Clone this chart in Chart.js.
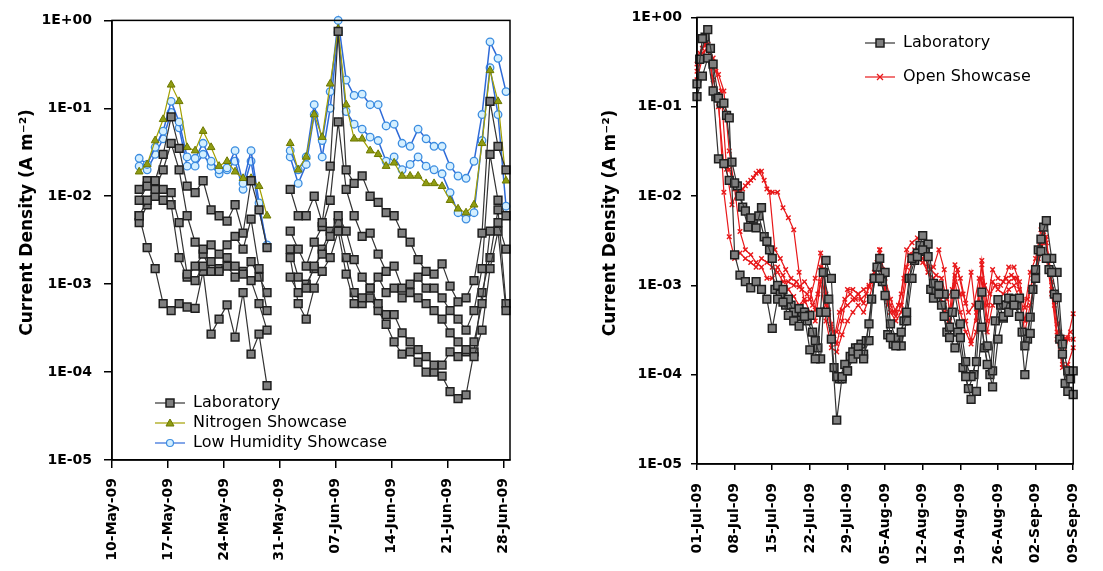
<!DOCTYPE html>
<html>
<head>
<meta charset="utf-8">
<title>Current density</title>
<script src="https://cdn.jsdelivr.net/npm/chart.js@4.4.1/dist/chart.umd.min.js"></script>
<style>
  html, body { margin: 0; padding: 0; background: #fff; }
  #wrap { position: relative; width: 1103px; height: 571px; overflow: hidden; }
  canvas { position: absolute; top: 0; }
  #leftChart { left: 0; }
  #rightChart { left: 560px; }
</style>
</head>
<body>
<div id="wrap">
  <canvas id="leftChart" width="540" height="571"></canvas>
  <canvas id="rightChart" width="543" height="571"></canvas>
</div>
<script>
// y axis, both panels
const yTickValues = [1e-5, 1e-4, 1e-3, 1e-2, 1e-1, 1];
const yTickLabels = ['1E-05', '1E-04', '1E-03', '1E-02', '1E-01', '1E+00'];

// left panel: days after 10-May-09
const mayTickDays = [0, 7, 14, 21, 28, 35, 42, 49];
const mayTickLabels = ['10-May-09', '17-May-09', '24-May-09', '31-May-09', '07-Jun-09', '14-Jun-09', '21-Jun-09', '28-Jun-09'];
const mayDays = [3.4, 4.4, 5.4, 6.4, 7.4, 8.4, 9.4, 10.4, 11.4, 12.4, 13.4, 14.4, 15.4, 16.4, 17.4, 18.4, 19.4,
  20.8,
  22.3, 23.3, 24.3, 25.3, 26.3, 27.3, 28.3, 29.3, 30.3, 31.3, 32.3, 33.3, 34.3, 35.3, 36.3, 37.3, 38.3, 39.3,
  40.3, 41.3, 42.3, 43.3, 44.3, 45.3, 46.3, 47.3, 48.3, 49.3];

const labMay1 = [0.009, 0.013, 0.015, 0.03, 0.08, 0.035, 0.013, 0.011, 0.015, 0.007, 0.006, 0.0052, 0.008, 0.0038, 0.015, 0.007, 0.0026,
  null,
  0.012, 0.006, 0.006, 0.01, 0.005, 0.022, 0.75, 0.02, 0.014, 0.017, 0.01, 0.0085, 0.0065, 0.006, 0.0038, 0.003, 0.0019, 0.0014,
  0.0013, 0.0017, 0.00095, 0.00063, 0.0007, 0.0011, 0.0038, 0.12, 0.037, 0.02];
const labMay2 = [0.006, 0.009, 0.012, 0.02, 0.04, 0.02, 0.006, 0.003, 0.0025, 0.0028, 0.0022, 0.0028, 0.0035, 0.0025, 0.0055, 0.0015, 0.0005,
  null,
  0.004, 0.0025, 0.0016, 0.003, 0.0045, 0.009, 0.07, 0.012, 0.006, 0.0035, 0.0038, 0.0022, 0.0014, 0.0016, 0.0009, 0.001, 0.0012, 0.0009,
  0.0009, 0.0007, 0.0005, 0.0004, 0.0003, 0.0005, 0.0015, 0.03, 0.009, 0.006];
const labMay3 = [0.012, 0.015, 0.014, 0.012, 0.011, 0.005, 0.0013, 0.0011, 0.0016, 0.0018, 0.0014, 0.002, 0.0016, 0.0013, 0.0018, 0.0012, 0.0008,
  null,
  0.0012, 0.0008, 0.0009, 0.0016, 0.0022, 0.0035, 0.006, 0.004, 0.0019, 0.0012, 0.0009, 0.0012, 0.0008, 0.0009, 0.0007, 0.0008, 0.0007, 0.0006,
  0.0005, 0.0004, 0.00028, 0.00022, 0.00018, 0.00022, 0.0006, 0.004, 0.005, 0.0025];
const labMay4 = [0.005, 0.008, 0.01, 0.009, 0.008, 0.002, 0.0012, 0.0016, 0.0022, 0.0014, 0.0015, 0.0016, 0.0012, 0.0014, 0.0011, 0.0006, 0.0003,
  null,
  0.002, 0.0006, 0.0004, 0.0009, 0.0014, 0.002, 0.004, 0.0013, 0.0006, 0.0007, 0.0009, 0.0006, 0.00045, 0.00045, 0.00028, 0.00022, 0.00018, 0.00015,
  0.00012, 0.00012, 0.00017, 0.00015, 0.00017, 0.00015, 0.0003, 0.0015, 0.004, 0.0005];
const labMay5 = [0.006, 0.0026, 0.0015, 0.0006, 0.0005, 0.0006, 0.00055, 0.00053, 0.0014, 0.00027, 0.0004, 0.00058, 0.00025, 0.0008, 0.00016, 0.00027, 0.00007,
  null,
  0.0025, 0.0012, 0.001, 0.0015, 0.0025, 0.004, 0.005, 0.002, 0.0008, 0.0006, 0.0007, 0.0005, 0.00035, 0.00022, 0.00016, 0.00017, 0.00013, 0.0001,
  0.0001, 0.00009, 0.00006, 0.00005, 0.000055, 0.00017, 0.0008, 0.002, 0.007, 0.0006];
const nitrogenMay = [0.019, 0.023, 0.043, 0.075, 0.185, 0.12, 0.036, 0.033, 0.055, 0.036, 0.022, 0.025, 0.019, 0.016, 0.016, 0.013, 0.006,
  null,
  0.04, 0.02, 0.028, 0.085, 0.047, 0.19, 0.8, 0.11, 0.045, 0.045, 0.033, 0.03, 0.022, 0.024, 0.017, 0.017, 0.017, 0.014,
  0.014, 0.013, 0.009, 0.0072, 0.0065, 0.008, 0.04, 0.27, 0.12, 0.015];
const lowHumMay1 = [0.027, 0.023, 0.036, 0.055, 0.12, 0.07, 0.028, 0.027, 0.04, 0.025, 0.02, 0.021, 0.033, 0.014, 0.033, 0.0084, 0.0026,
  null,
  0.033, 0.02, 0.028, 0.11, 0.043, 0.155, 1.0, 0.21, 0.14, 0.145, 0.11, 0.11, 0.063, 0.066, 0.04, 0.037, 0.058, 0.045,
  0.037, 0.037, 0.022, 0.017, 0.016, 0.025, 0.085, 0.57, 0.37, 0.155];
const lowHumMay2 = [0.022, 0.02, 0.03, 0.045, 0.09, 0.06, 0.022, 0.022, 0.03, 0.022, 0.018, 0.02, 0.025, 0.012, 0.025, 0.007, 0.0028,
  null,
  0.028, 0.014, 0.023, 0.085, 0.028, 0.1, 0.73, 0.092, 0.066, 0.058, 0.047, 0.043, 0.025, 0.028, 0.02, 0.023, 0.028, 0.022,
  0.02, 0.018, 0.011, 0.0065, 0.0055, 0.0065, 0.043, 0.29, 0.085, 0.0077];

// right panel: days after 01-Jul-09
const julTickDays = [0, 7, 14, 21, 28, 35, 42, 49, 56, 63, 70];
const julTickLabels = ['01-Jul-09', '08-Jul-09', '15-Jul-09', '22-Jul-09', '29-Jul-09', '05-Aug-09', '12-Aug-09', '19-Aug-09', '26-Aug-09', '02-Sep-09', '09-Sep-09'];
const julDays = [0, 1, 2, 3, 4, 5, 6, 7, 8, 9, 10, 11, 12, 13, 14, 15, 16, 17, 18, 19, 20, 21, 22, 23, 24, 25, 26, 27, 28, 29,
  30, 31, 32, 33, 34, 35, 36, 37, 38, 39, 40, 41, 42, 43, 44, 45, 46, 47, 48, 49, 50, 51, 52, 53, 54, 55, 56, 57, 58, 59,
  60, 61, 62, 63, 64, 65, 66, 67, 68, 69, 70];
const julHalfDays = [0.5, 1.5, 2.5, 3.5, 4.5, 5.5, 6.5, 7.5, 8.5, 9.5, 10.5, 11.5, 12.5, 13.5, 14.5, 15.5, 16.5, 17.5, 18.5, 19.5,
  20.5, 21.5, 22.5, 23.5, 24.5, 25.5, 26.5, 27.5, 28.5, 29.5, 30.5, 31.5, 32.5, 33.5, 34.5, 35.5, 36.5, 37.5, 38.5, 39.5,
  40.5, 41.5, 42.5, 43.5, 44.5, 45.5, 46.5, 47.5, 48.5, 49.5, 50.5, 51.5, 52.5, 53.5, 54.5, 55.5, 56.5, 57.5, 58.5, 59.5,
  60.5, 61.5, 62.5, 63.5, 64.5, 65.5, 66.5, 67.5, 68.5, 69.5];

const labJul1 = [0.18, 0.58, 0.73, 0.3, 0.125, 0.11, 0.075, 0.0022, 0.0013, 0.0011,
  0.00094, 0.0011, 0.0009, 0.0007, 0.00033, 0.0007, 0.00065, 0.00046, 0.0004, 0.00035,
  0.00045, 0.00019, 0.00015, 0.0005, 0.0005, 0.00025, 0.000031, 0.000095, 0.00011, 0.00015,
  0.00017, 0.00015, 0.00037, 0.0012, 0.0012, 0.00077, 0.00026, 0.00021, 0.0003, 0.0005,
  0.002, 0.0021, 0.0025, 0.0021, 0.00072, 0.0008, 0.00045, 0.00026, 0.0002, 0.00026,
  0.000095, 0.000053, 0.000065, 0.00034, 0.00013, 0.000073, 0.00025, 0.00045, 0.0005, 0.0006,
  0.00045, 0.0001, 0.00029, 0.0012, 0.0024, 0.002, 0.0014, 0.00073, 0.00017, 0.000065,
  0.00006];
const labJul2 = [0.13, 0.22, 0.35, 0.15, 0.026, 0.023, 0.015, 0.014, 0.01, 0.0068,
  0.0057, 0.0044, 0.0074, 0.0031, 0.002, 0.001, 0.0009, 0.0007, 0.0005, 0.00055,
  0.0005, 0.00046, 0.00024, 0.00015, 0.0019, 0.0012, 0.000095, 0.00009, 0.00011, 0.00018,
  0.0002, 0.00017, 0.00024, 0.0012, 0.002, 0.0014, 0.00037, 0.00026, 0.00021, 0.0004,
  0.0012, 0.0023, 0.0036, 0.0029, 0.00105, 0.001, 0.0008, 0.00034, 0.0008, 0.00037,
  0.00014, 0.000095, 0.00014, 0.00084, 0.00021, 0.00011, 0.00069, 0.00043, 0.00072, 0.0007,
  0.00072, 0.00021, 0.00044, 0.0015, 0.0033, 0.0053, 0.002, 0.0014, 0.00022, 0.00011,
  0.00011];
const labJul3 = [0.34, 0.6, 0.45, 0.13, 0.11, 0.08, 0.024, 0.013, 0.0075, 0.0045,
  0.0055, 0.006, 0.0035, 0.0025, 0.0009, 0.0008, 0.0006, 0.0006, 0.00045, 0.0005,
  0.0004, 0.0003, 0.0002, 0.0014, 0.0007, 0.00012, 0.00009, 0.00013, 0.00016, 0.0002,
  0.00022, 0.00024, 0.0007, 0.0016, 0.0011, 0.00028, 0.00022, 0.00025, 0.0004, 0.0012,
  0.0019, 0.0028, 0.0024, 0.0009, 0.00085, 0.0006, 0.0003, 0.0005, 0.0003, 0.00012,
  0.00007, 0.0001, 0.0006, 0.0002, 0.0001, 0.0004, 0.0006, 0.0006, 0.0007, 0.0006,
  0.0003, 0.00025, 0.0009, 0.0025, 0.0045, 0.0015, 0.0008, 0.00025, 0.00008, 0.00009];
const openJul1 = [0.3, 0.45, 0.5, 0.35, 0.23, 0.15, 0.032, 0.012, 0.011, 0.013,
  0.015, 0.018, 0.019, 0.012, 0.011, 0.011, 0.0074, 0.0057, 0.0042, 0.0014,
  0.00065, 0.0007, 0.0012, 0.0023, 0.0008, 0.00037, 0.00022, 0.0004, 0.0009, 0.0009,
  0.0008, 0.00063, 0.001, 0.0014, 0.0025, 0.0012, 0.0007, 0.0005, 0.0008, 0.0025,
  0.003, 0.0034, 0.0025, 0.0016, 0.0016, 0.0025, 0.0015, 0.0005, 0.0017, 0.0012,
  0.00063, 0.0014, 0.0004, 0.0019, 0.0006, 0.0015, 0.0012, 0.0011, 0.0016, 0.0016,
  0.0011, 0.00056, 0.0014, 0.002, 0.0042, 0.003, 0.0011, 0.00037, 0.00026, 0.00026,
  0.00048];
const openJul2 = [0.25, 0.4, 0.45, 0.2, 0.12, 0.011, 0.0035, 0.002, 0.0023, 0.002,
  0.0018, 0.0016, 0.002, 0.0018, 0.0016, 0.0014, 0.0011, 0.0011, 0.001, 0.00096,
  0.0011, 0.0009, 0.00053, 0.0016, 0.0006, 0.00032, 0.0003, 0.00053, 0.0006, 0.00069,
  0.0008, 0.0009, 0.00096, 0.0012, 0.0025, 0.00095, 0.0006, 0.00045, 0.0006, 0.0016,
  0.0022, 0.0025, 0.002, 0.0014, 0.0012, 0.0009, 0.0005, 0.0004, 0.0013, 0.0008,
  0.0004, 0.00024, 0.0005, 0.0017, 0.0004, 0.0011, 0.0009, 0.0008, 0.0011, 0.0012,
  0.0009, 0.0004, 0.0009, 0.0015, 0.0025, 0.0035, 0.0009, 0.0003, 0.00013, 0.00025,
  0.00025];
const openJul3 = [0.2, 0.35, 0.5, 0.16, 0.1, 0.022, 0.02, 0.012, 0.004, 0.0025,
  0.0022, 0.0018, 0.0016, 0.0012, 0.0012, 0.0016, 0.0013, 0.0009, 0.00075, 0.0006,
  0.0007, 0.0005, 0.0004, 0.0011, 0.0004, 0.0002, 0.00018, 0.00028, 0.0004, 0.0005,
  0.0006, 0.0005, 0.0007, 0.0012, 0.002, 0.0008, 0.0005, 0.0004, 0.0005, 0.0012,
  0.0018, 0.002, 0.0018, 0.0014, 0.001, 0.0008, 0.0006, 0.0003, 0.0011, 0.0005,
  0.0003, 0.00022, 0.0003, 0.0012, 0.0003, 0.0006, 0.0007, 0.0006, 0.0009, 0.001,
  0.0007, 0.0003, 0.0006, 0.0013, 0.003, 0.002, 0.0008, 0.00025, 0.00012, 0.00013,
  0.0002];
const openJul4 = [0.4, 0.5, 0.35, 0.25, 0.15, 0.02, 0.008, 0.011, 0.012, 0.014,
  0.016, 0.019, 0.015, 0.011, 0.0025, 0.002, 0.0015, 0.0012, 0.0011, 0.0009,
  0.0008, 0.0006, 0.0008, 0.0015, 0.0005, 0.00025, 0.0005, 0.0007, 0.0008, 0.0007,
  0.0007, 0.0008, 0.0011, 0.0018, 0.0015, 0.0006, 0.0005, 0.0006, 0.0012, 0.0022,
  0.0025, 0.0028, 0.002, 0.0015, 0.0013, 0.0012, 0.0007, 0.0009, 0.0015, 0.0008,
  0.0005, 0.0006, 0.0012, 0.001, 0.0008, 0.001, 0.001, 0.0012, 0.0013, 0.0012,
  0.0007, 0.0007, 0.0012, 0.002, 0.004, 0.002, 0.0006, 0.0003, 0.00025, 0.0003];

const tickFont = { family: 'DejaVu Sans', size: 14, weight: 'bold' };
const titleFont = { family: 'DejaVu Sans', size: 17, weight: 'bold' };
const legendFont = { family: 'DejaVu Sans', size: 16 };

// little "line + marker" pictures for the legend
function makeIcon(lineColor, draw) {
  const c = document.createElement('canvas');
  c.width = 30; c.height = 14;
  const g = c.getContext('2d');
  g.strokeStyle = lineColor; g.lineWidth = 1.2;
  g.beginPath(); g.moveTo(0, 7); g.lineTo(30, 7); g.stroke();
  draw(g);
  return c;
}
const labIcon = makeIcon('#333', g => {
  g.fillStyle = '#7f7f7f'; g.strokeStyle = '#1e1e1e'; g.lineWidth = 1.5;
  g.fillRect(11, 3, 8, 8); g.strokeRect(11, 3, 8, 8);
});
const nitroIcon = makeIcon('#a3a000', g => {
  g.fillStyle = '#8f9c12'; g.strokeStyle = '#6d7800'; g.lineWidth = 1;
  g.beginPath(); g.moveTo(15, 3); g.lineTo(19, 10); g.lineTo(11, 10); g.closePath(); g.fill(); g.stroke();
});
const humIcon = makeIcon('#2e6ad8', g => {
  g.fillStyle = '#d4efff'; g.strokeStyle = '#3c8de0'; g.lineWidth = 1.2;
  g.beginPath(); g.arc(15, 7, 3.5, 0, Math.PI * 2); g.fill(); g.stroke();
});
const openIcon = makeIcon('#e8181a', g => {
  g.strokeStyle = '#e8181a'; g.lineWidth = 1.3;
  g.beginPath(); g.moveTo(12, 4); g.lineTo(18, 10); g.moveTo(18, 4); g.lineTo(12, 10); g.stroke();
});

const labStyle = { borderColor: '#333', borderWidth: 1.2, pointStyle: 'rect', pointRadius: 5.5,
  pointBackgroundColor: '#7f7f7f', pointBorderColor: '#1e1e1e', pointBorderWidth: 1.5 };
const nitroStyle = { borderColor: '#a3a000', borderWidth: 1.2, pointStyle: 'triangle', pointRadius: 4.5,
  pointBackgroundColor: '#8f9c12', pointBorderColor: '#6d7800', pointBorderWidth: 1 };
const humStyle = { borderColor: '#2e6ad8', borderWidth: 1.5, pointStyle: 'circle', pointRadius: 3.8,
  pointBackgroundColor: '#d4efff', pointBorderColor: '#3c8de0', pointBorderWidth: 1.3 };
const openStyle = { borderColor: '#e8181a', borderWidth: 1.2, pointStyle: 'crossRot', pointRadius: 3.2,
  pointBackgroundColor: '#e8181a', pointBorderColor: '#e8181a', pointBorderWidth: 1.4 };

function series(label, days, vals, style, icon) {
  return Object.assign({
    label,
    data: days.map((d, i) => ({ x: d, y: vals[i] })),
    spanGaps: false, clip: false, fill: false, tension: 0,
    legendIcon: icon || null
  }, style);
}

// box round the plot area
const framePlugin = {
  id: 'frame',
  afterDraw(chart) {
    const { ctx, chartArea: a } = chart;
    ctx.save();
    ctx.strokeStyle = '#000'; ctx.lineWidth = 1.5;
    ctx.strokeRect(a.left, a.top, a.right - a.left, a.bottom - a.top);
    ctx.restore();
  }
};
// move the legend to its spot inside the plot
const legendSpot = {
  id: 'legendSpot',
  afterLayout(chart, args, opts) {
    const lg = chart.legend;
    if (!lg) return;
    const w = lg.width;
    lg.left = opts.x; lg.right = opts.x + w;
    lg.top = opts.y; lg.bottom = opts.y + 300;
  }
};

// leading spaces nudge the centred title upward, as in the original
const yTitle = '      Current Density (A m⁻²)';

function yAxis(width, tickLen, pad, titlePad) {
  return {
    type: 'logarithmic', min: 1e-5, max: 1,
    afterBuildTicks: s => { s.ticks = yTickValues.map(v => ({ value: v })); },
    afterFit: s => { s.width = width; },
    ticks: { callback: (v, i) => yTickLabels[i], autoSkip: false, color: '#000', font: tickFont, padding: pad },
    grid: { drawOnChartArea: false, tickLength: tickLen, color: '#000', lineWidth: 1.5 },
    border: { color: '#000', width: 1.5 },
    title: { display: true, text: yTitle, color: '#000', font: titleFont, padding: { top: titlePad, bottom: 0 } }
  };
}

function xAxis(min, max, tickDays, tickLabels, height, tickLen, pad) {
  return {
    type: 'linear', min, max,
    afterBuildTicks: s => { s.ticks = tickDays.map(v => ({ value: v })); },
    afterFit: s => { s.height = height; },
    ticks: { callback: (v, i) => tickLabels[i], autoSkip: false, minRotation: 90, maxRotation: 90,
      color: '#000', font: tickFont, padding: pad },
    grid: { drawOnChartArea: false, tickLength: tickLen, color: '#000', lineWidth: 1.5 },
    border: { color: '#000', width: 1.5 }
  };
}

function legendOpts(pad) {
  return {
    display: true,
    position: 'chartArea',
    align: 'start',
    labels: {
      usePointStyle: true, pointStyleWidth: 30, padding: pad, color: '#000', font: legendFont,
      generateLabels: chart => Chart.defaults.plugins.legend.labels.generateLabels(chart)
        .filter(it => chart.data.datasets[it.datasetIndex].legendIcon)
        .map(it => Object.assign(it, { pointStyle: chart.data.datasets[it.datasetIndex].legendIcon }))
    }
  };
}

new Chart(document.getElementById('leftChart'), {
  type: 'line',
  data: {
    datasets: [
      series('Laboratory', mayDays, labMay1, labStyle, labIcon),
      series('Laboratory', mayDays, labMay2, labStyle),
      series('Laboratory', mayDays, labMay3, labStyle),
      series('Laboratory', mayDays, labMay4, labStyle),
      series('Laboratory', mayDays, labMay5, labStyle),
      series('Nitrogen Showcase', mayDays, nitrogenMay, nitroStyle, nitroIcon),
      series('Low Humidity Showcase', mayDays, lowHumMay1, humStyle, humIcon),
      series('Low Humidity Showcase', mayDays, lowHumMay2, humStyle)
    ]
  },
  options: {
    responsive: false, animation: false, events: [],
    layout: { padding: { top: 15, right: 30, bottom: 0, left: 0 } },
    scales: {
      x: xAxis(0, 49.8, mayTickDays, mayTickLabels, 111, 8, 10),
      y: yAxis(112, 8, 12, 17)
    },
    plugins: {
      legend: legendOpts(4),
      legendSpot: { x: 151, y: 391 },
      tooltip: { enabled: false }
    }
  },
  plugins: [framePlugin, legendSpot]
});

new Chart(document.getElementById('rightChart'), {
  type: 'line',
  data: {
    datasets: [
      series('Laboratory', julDays, labJul1, labStyle, labIcon),
      series('Laboratory', julDays, labJul2, labStyle),
      series('Laboratory', julHalfDays, labJul3, labStyle),
      series('Open Showcase', julDays, openJul1, openStyle, openIcon),
      series('Open Showcase', julDays, openJul2, openStyle),
      series('Open Showcase', julDays, openJul3, openStyle),
      series('Open Showcase', julHalfDays, openJul4, openStyle)
    ]
  },
  options: {
    responsive: false, animation: false, events: [],
    layout: { padding: { top: 16, right: 11, bottom: 0, left: 0 } },
    scales: {
      x: xAxis(0, 70, julTickDays, julTickLabels, 107, 6, 13),
      y: yAxis(137, 6, 9, 40)
    },
    plugins: {
      legend: legendOpts(18),
      legendSpot: { x: 287, y: 17 },
      tooltip: { enabled: false }
    }
  },
  plugins: [framePlugin, legendSpot]
});
</script>
</body>
</html>
